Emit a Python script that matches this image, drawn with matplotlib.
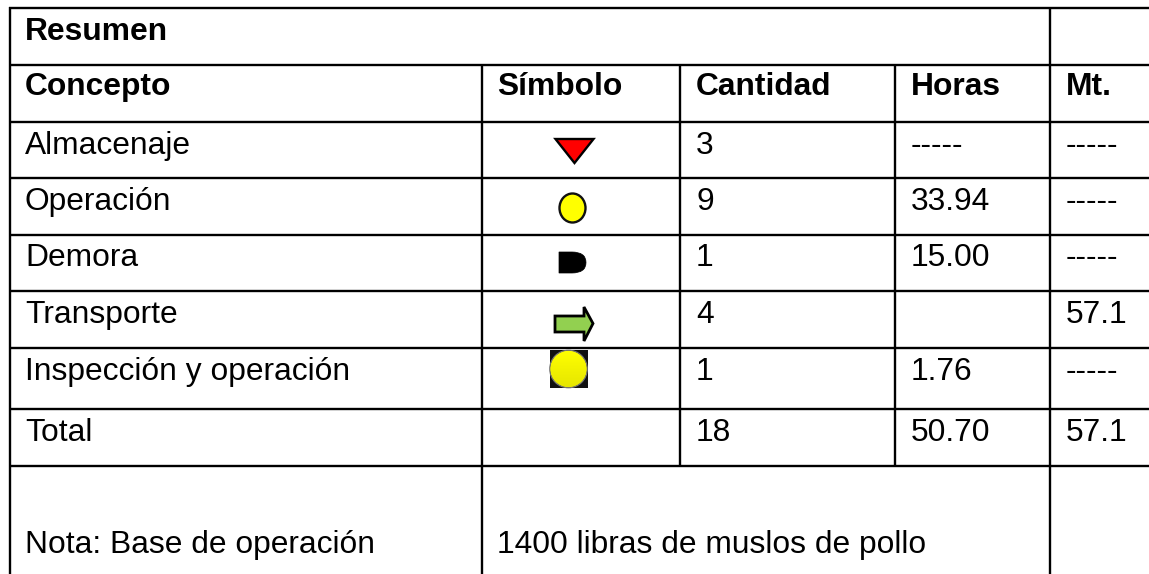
# Resumen table, drawn on an axes in pixel units
import matplotlib
matplotlib.use('Agg')
import matplotlib.pyplot as plt
from matplotlib.patches import Polygon, Ellipse, Rectangle, PathPatch, Circle
from matplotlib.path import Path
import numpy as np

plt.rcParams['font.family'] = ['Liberation Sans', 'DejaVu Sans']

title = 'Resumen'
headers = ['Concepto', 'Símbolo', 'Cantidad', 'Horas', 'Mt.']
conceptos = ['Almacenaje', 'Operación', 'Demora', 'Transporte', 'Inspección y operación', 'Total']
cantidad = ['3', '9', '1', '4', '1', '18']
horas = ['-----', '33.94', '15.00', '', '1.76', '50.70']
metros = ['-----', '-----', '-----', '57.1', '-----', '57.1']
nota = 'Nota: Base de operación'
nota_valor = '1400 libras de muslos de pollo'

W, H = 1149, 574
fig = plt.figure(figsize=(W / 100, H / 100), dpi=100)
ax = fig.add_axes([0, 0, 1, 1])
ax.set_xlim(0, W)
ax.set_ylim(H, 0)
ax.axis('off')

# grid
lw = 1.7
hlines = [8, 65, 122, 178, 235, 291, 348, 409, 466]
for y in hlines:
    ax.plot([9, W], [y, y], color='black', lw=lw, solid_capstyle='butt')
ax.plot([10, 10], [7, H], color='black', lw=lw, solid_capstyle='butt')
ax.plot([482, 482], [65, H], color='black', lw=lw, solid_capstyle='butt')
ax.plot([680, 680], [65, 466], color='black', lw=lw, solid_capstyle='butt')
ax.plot([895, 895], [65, 466], color='black', lw=lw, solid_capstyle='butt')
ax.plot([1050, 1050], [8, H], color='black', lw=lw, solid_capstyle='butt')

# text
fs = 22.9
fs_bold = 22.85
col_x = [25, 497, 696, 911, 1066]
row_base = [154, 210, 266, 323, 380, 441]
ax.text(col_x[0], 40, title, fontsize=fs_bold, fontweight='bold', va='baseline')
for x, h in zip(col_x, headers):
    ax.text(x, 95, h, fontsize=fs_bold, fontweight='bold', va='baseline')
for i, y in enumerate(row_base):
    ax.text(col_x[0], y, conceptos[i], fontsize=fs, va='baseline')
    ax.text(col_x[2], y, cantidad[i], fontsize=fs, va='baseline')
    ax.text(col_x[3], y, horas[i], fontsize=fs, va='baseline')
    ax.text(col_x[4], y, metros[i], fontsize=fs, va='baseline')
ax.text(col_x[0], 553, nota, fontsize=fs, va='baseline')
ax.text(col_x[1], 553, nota_valor, fontsize=fs, va='baseline')

# symbols
ax.add_patch(Polygon([(555.5, 139), (593.5, 139), (574.5, 163)], closed=True,
                     fc='#ff0000', ec='black', lw=1.7, joinstyle='miter'))
ax.add_patch(Ellipse((572.5, 208), 26, 29, fc='#ffff00', ec='#111111', lw=1.7))

verts = [(559, 252), (572, 252), (586, 252), (586, 262.5), (586, 273), (572, 273), (559, 273), (559, 252)]
codes = [Path.MOVETO, Path.LINETO, Path.CURVE3, Path.CURVE3, Path.CURVE3, Path.CURVE3, Path.LINETO, Path.CLOSEPOLY]
ax.add_patch(PathPatch(Path(verts, codes), fc='black', ec='black', lw=0.5))

ax.add_patch(Polygon([(555, 316), (584, 316), (584, 307), (593, 323.5), (584, 341), (584, 332), (555, 332)],
                     closed=True, fc='#92d050', ec='black', lw=2, joinstyle='miter'))

# inspeccion: black square with gradient yellow circle on top
ax.add_patch(Rectangle((550, 350), 38, 38, fc='#111111', ec='none'))
grad = np.linspace(0, 1, 64).reshape(-1, 1)
colors = np.zeros((64, 1, 3))
colors[:, :, 0] = (1 - 0.1 * grad)
colors[:, :, 1] = (1 - 0.1 * grad)
im = ax.imshow(colors, extent=(549, 588, 388, 350), aspect='auto', zorder=3)
clip = Circle((568.5, 369), 18.5, transform=ax.transData)
im.set_clip_path(clip)
ax.add_patch(Circle((568.5, 369), 18.8, fc='none', ec='#777777', lw=0.8, zorder=4))
ax.set_xlim(0, W)
ax.set_ylim(H, 0)

fig.savefig('out.png', dpi=100)
